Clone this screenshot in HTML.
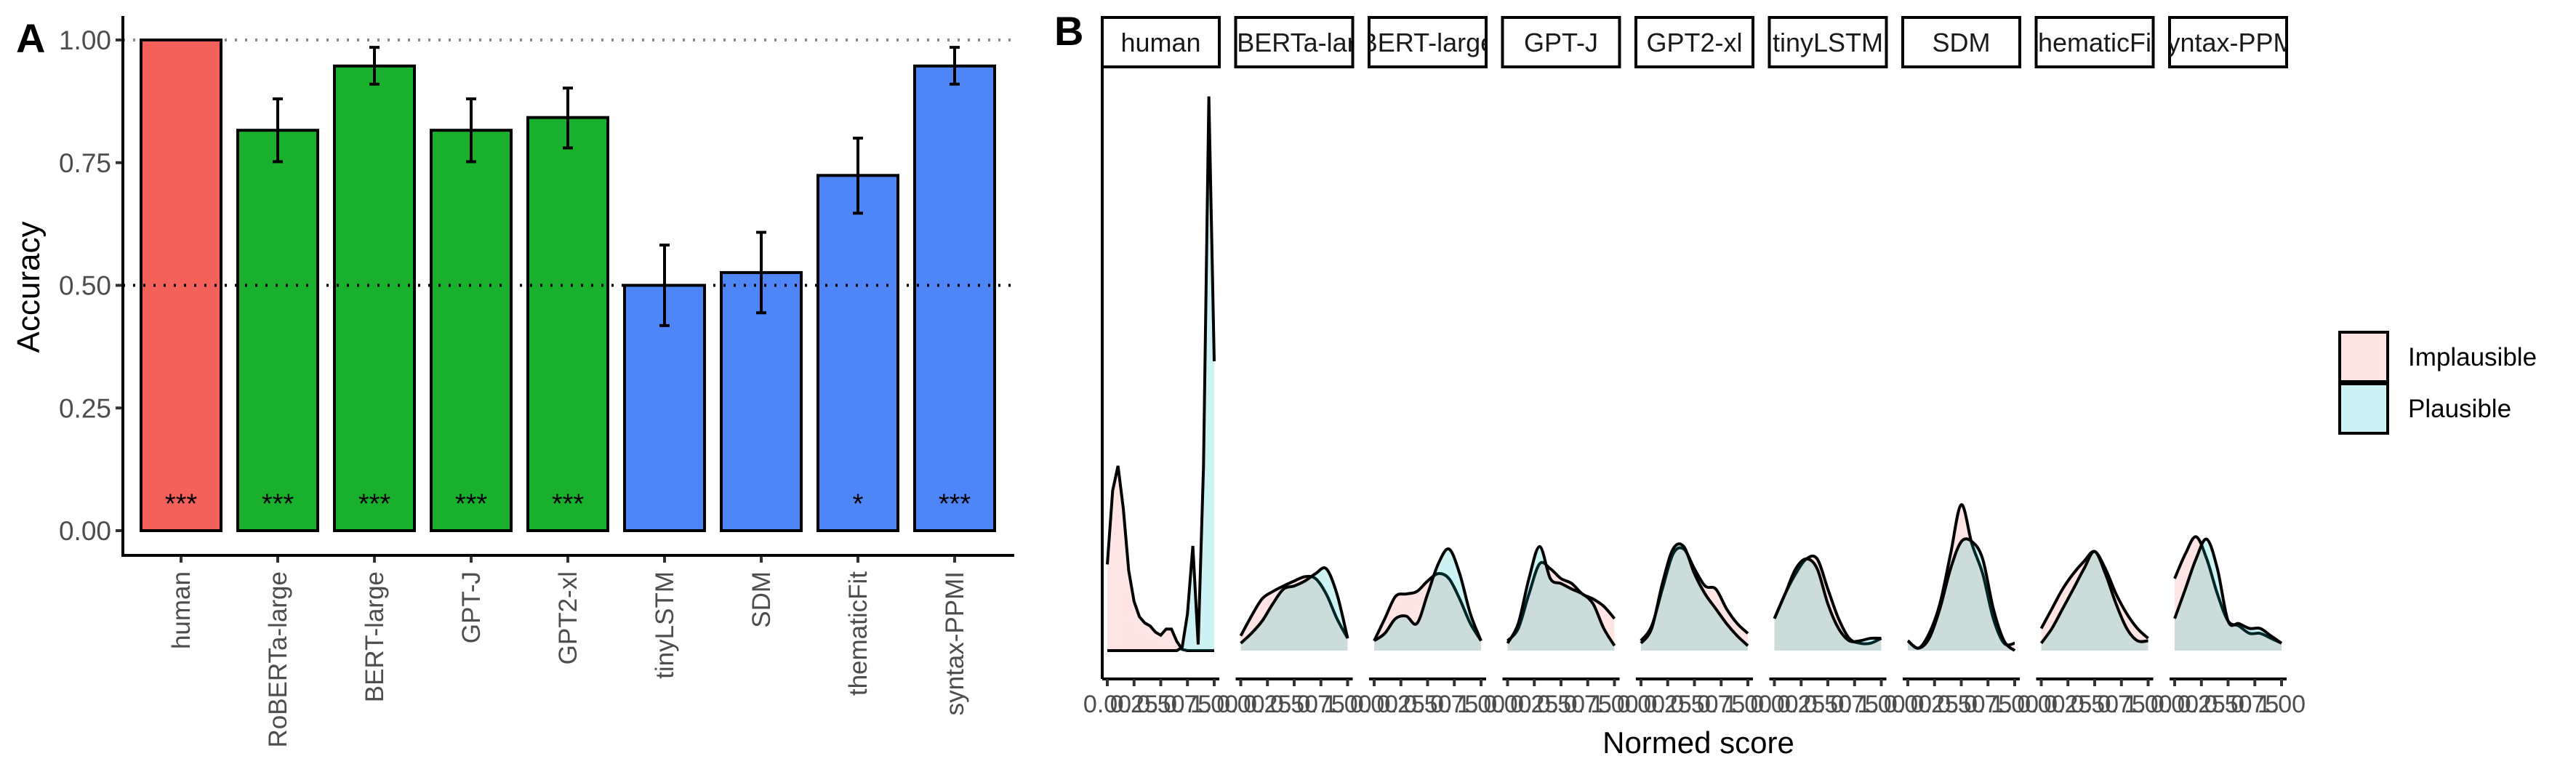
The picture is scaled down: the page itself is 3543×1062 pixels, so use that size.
<!DOCTYPE html>
<html><head><meta charset="utf-8"><style>
html,body{margin:0;padding:0;background:#fff;}
svg{display:block;font-family:"Liberation Sans",sans-serif;}
</style></head><body>
<svg id="fig" width="3543" height="1062" viewBox="0 0 3543 1062"></svg>
<script>
const models = ["human","RoBERTa-large","BERT-large","GPT-J","GPT2-xl","tinyLSTM","SDM","thematicFit","syntax-PPMI"];
const accuracy = [1.0,0.816,0.947,0.816,0.842,0.5,0.526,0.724,0.947];
const errLow = [1.0,0.752,0.91,0.752,0.78,0.418,0.444,0.647,0.91];
const errHigh = [1.0,0.88,0.985,0.88,0.902,0.582,0.608,0.8,0.985];
const sig = ["***","***","***","***","***","","","*","***"];
const groupColor = ["#f4605a","#19b02d","#19b02d","#19b02d","#19b02d","#4f86f7","#4f86f7","#4f86f7","#4f86f7"];
const yTicks = [0,0.25,0.5,0.75,1.0];
const yTickLabels = ["0.00","0.25","0.50","0.75","1.00"];
const facetLabels = ["human","RoBERTa-large","BERT-large","GPT-J","GPT2-xl","tinyLSTM","SDM","thematicFit","syntax-PPMI"];
const xTicksB = [0,0.25,0.5,0.75,1];
const xTickLabelsB = ["0.00","0.25","0.50","0.75","1.00"];
const humanImpl = [1.4,2.6,3.0,2.3,1.3,0.8,0.55,0.45,0.4,0.3,0.25,0.35,0.35,0.15,0.02,0,0,0,0,0,0];
const humanPlaus = [0,0,0,0,0,0,0,0,0,0,0,0,0,0,0.05,0.6,1.7,0.1,3.0,9.0,4.7];
const implDens = [
 null,
 [0.24,0.56,0.84,0.96,1.05,1.13,1.2,1.17,0.92,0.52,0.2],
 [0.16,0.52,0.88,0.92,0.96,1.13,1.25,1.17,0.84,0.44,0.16],
 [0.16,0.36,0.92,1.41,1.33,1.17,1.09,0.92,0.84,0.72,0.52],
 [0.16,0.4,1.0,1.57,1.65,1.33,1.05,1.0,0.68,0.44,0.28],
 [0.52,0.92,1.25,1.49,1.49,1.0,0.52,0.2,0.12,0.12,0.2],
 [0.16,0.04,0.28,0.76,1.57,2.37,1.73,1.25,0.52,0.12,0.12],
 [0.36,0.68,1.0,1.25,1.45,1.61,1.33,0.92,0.6,0.36,0.2],
 [1.17,1.57,1.85,1.49,0.92,0.48,0.4,0.28,0.28,0.2,0.12]
];
const plausDens = [
 null,
 [0.12,0.28,0.48,0.76,1.0,1.05,1.13,1.25,1.33,0.92,0.2],
 [0.16,0.28,0.52,0.56,0.44,0.92,1.41,1.65,1.25,0.6,0.16],
 [0.12,0.44,1.17,1.69,1.17,1.09,1.0,0.92,0.76,0.36,0.08],
 [0.12,0.36,1.09,1.65,1.69,1.25,0.92,0.68,0.44,0.24,0.08],
 [0.52,0.92,1.33,1.49,1.33,0.76,0.36,0.16,0.16,0.2,0.2],
 [0.16,0.04,0.2,0.68,1.33,1.77,1.77,1.49,0.68,0.16,0],
 [0.12,0.36,0.68,1.0,1.33,1.61,1.25,0.76,0.36,0.16,0.16],
 [0.52,1.0,1.49,1.81,1.33,0.48,0.44,0.36,0.36,0.24,0.12]
];

const svg = document.getElementById('fig');
const NS = "http://www.w3.org/2000/svg";
function mk(tag, attrs, parent){const e=document.createElementNS(NS,tag);for(const k in attrs)e.setAttribute(k,attrs[k]);(parent||svg).appendChild(e);return e;}

// ---------- Panel A ----------
const A = {x0:169, x1:1395, yTop:55, yBot:730, axisY:764, c0:249, step:133, bw:110};
const yA = v => A.yBot - v*(A.yBot-A.yTop);
const xA = i => A.c0 + i*A.step;

let t = mk('text',{x:22,y:72,'font-size':56,'font-weight':'bold',fill:'#000'});
t.textContent='A';



let l1 = mk('line',{x1:A.x0,x2:A.x1,y1:yA(1),y2:yA(1),stroke:'#888','stroke-width':4,'stroke-dasharray':'3 11'});



models.forEach((m,i)=>{
  const cx=xA(i);
  const r = mk('rect',{x:cx-A.bw/2,y:yA(accuracy[i]),width:A.bw,height:yA(0)-yA(accuracy[i]),fill:groupColor[i],stroke:'#000','stroke-width':4});
  
  
  if(errHigh[i]>errLow[i]){
    const g = mk('g',{stroke:'#000','stroke-width':4});
    
    
    mk('line',{x1:cx,x2:cx,y1:yA(errLow[i]),y2:yA(errHigh[i])},g);
    mk('line',{x1:cx-7,x2:cx+7,y1:yA(errLow[i]),y2:yA(errLow[i])},g);
    mk('line',{x1:cx-7,x2:cx+7,y1:yA(errHigh[i]),y2:yA(errHigh[i])},g);
  }
  if(sig[i]){
    const s = mk('text',{x:cx,y:yA(0.06)+16,'text-anchor':'middle','font-size':38,fill:'#000'});
    s.textContent=sig[i];
    
    
  }
  const tk = mk('line',{x1:cx,x2:cx,y1:A.axisY,y2:A.axisY+10,stroke:'#333','stroke-width':4});
  
  
  const lb = mk('text',{x:0,y:0,'text-anchor':'end','font-size':35,fill:'#4d4d4d',transform:`translate(${cx+12},${A.axisY+22}) rotate(-90)`});
  lb.textContent=m;
  
  
});

let l2 = mk('line',{x1:A.x0,x2:A.x1,y1:yA(0.5),y2:yA(0.5),stroke:'#000','stroke-width':4,'stroke-dasharray':'3 11'});



yTicks.forEach((v,i)=>{
  const tk = mk('line',{x1:A.x0-10,x2:A.x0,y1:yA(v),y2:yA(v),stroke:'#333','stroke-width':4});
  
  
  const lb = mk('text',{x:A.x0-16,y:yA(v)+13,'text-anchor':'end','font-size':37,fill:'#4d4d4d'});
  lb.textContent=yTickLabels[i];
  
  
});
let ax = mk('path',{d:`M${A.x0},22 V${A.axisY} H${A.x1}`,fill:'none',stroke:'#000','stroke-width':4});


let yt = mk('text',{x:0,y:0,'text-anchor':'middle','font-size':44,fill:'#000',transform:'translate(54,395) rotate(-90)'});
yt.textContent='Accuracy';



// ---------- Panel B ----------
t = mk('text',{x:1450,y:62,'font-size':56,'font-weight':'bold',fill:'#000'});
t.textContent='B';



const B = {left0:1516, step:183.5, w:161, stripTop:24, stripBot:92, base:895, unit:84.7, axisY:934, pad:7};
const defs = mk('defs',{});
function smoothPath(pts){
  let d=`M${pts[0][0]},${pts[0][1]}`;
  for(let i=0;i<pts.length-1;i++){
    const p0=pts[Math.max(0,i-1)],p1=pts[i],p2=pts[i+1],p3=pts[Math.min(pts.length-1,i+2)];
    const c1x=p1[0]+(p2[0]-p0[0])/6,c1y=p1[1]+(p2[1]-p0[1])/6;
    const c2x=p2[0]-(p3[0]-p1[0])/6,c2y=p2[1]-(p3[1]-p1[1])/6;
    d+=` C${c1x},${c1y} ${c2x},${c2y} ${p2[0]},${p2[1]}`;
  }
  return d;
}
facetLabels.forEach((f,i)=>{
  const L = B.left0 + i*B.step, R = L + B.w;
  const xB = v => L + B.pad + v*(B.w-2*B.pad);
  const yB = d => B.base - d*B.unit;
  const g = mk('g',{});
  
  
  const cp = mk('clipPath',{id:'clip'+i},defs);
  mk('rect',{x:L,y:B.stripTop,width:B.w,height:B.stripBot-B.stripTop},cp);
  const sr = mk('rect',{x:L,y:B.stripTop,width:B.w,height:B.stripBot-B.stripTop,fill:'#fff',stroke:'#000','stroke-width':4},g);
  
  
  const st = mk('text',{x:(L+R)/2,y:71,'text-anchor':'middle','font-size':36,fill:'#1a1a1a','clip-path':`url(#clip${i})`},g);
  st.textContent=f;
  
  
  const series = i===0 ? [[humanImpl,'#F8766D','implausible'],[humanPlaus,'#00BFC4','plausible']]
                       : [[implDens[i],'#F8766D','implausible'],[plausDens[i],'#00BFC4','plausible']];
  series.forEach(([arr,col,nm])=>{
    const n=arr.length;
    const pts=arr.map((d,k)=>[xB(k/(n-1)),yB(d)]);
    const line = i===0 ? 'M'+pts.map(p=>p[0]+','+p[1]).join(' L') : smoothPath(pts);
    const area = mk('path',{d:line+` L${xB(1)},${B.base} L${xB(0)},${B.base} Z`,fill:col,'fill-opacity':0.2,stroke:'none'},g);
    
    
    const ln = mk('path',{d:line,fill:'none',stroke:'#000','stroke-width':4},g);
    
    
  });
  const xa = mk('line',{x1:L,x2:R,y1:B.axisY,y2:B.axisY,stroke:'#000','stroke-width':4},g);
  
  
  xTicksB.forEach((v,k)=>{
    const tk=mk('line',{x1:xB(v),x2:xB(v),y1:B.axisY,y2:B.axisY+10,stroke:'#333','stroke-width':4},g);
    
    
    const lb=mk('text',{x:xB(v),y:B.axisY+46,'text-anchor':'middle','font-size':34,fill:'#4d4d4d'},g);
    lb.textContent=xTickLabelsB[k];
    
    
  });
});
let ya = mk('line',{x1:B.left0,x2:B.left0,y1:B.stripBot,y2:B.axisY,stroke:'#000','stroke-width':4});


let xt = mk('text',{x:2336,y:1036,'text-anchor':'middle','font-size':42,fill:'#000'});
xt.textContent='Normed score';



const lg = mk('g',{});


[["Implausible","#F8766D",457],["Plausible","#00BFC4",528]].forEach(([nm,col,y])=>{
  mk('rect',{x:3218,y:y,width:66,height:68,fill:'#fff',stroke:'none'},lg);
  const r=mk('rect',{x:3218,y:y,width:66,height:68,fill:col,'fill-opacity':0.2,stroke:'#000','stroke-width':4},lg);
  
  
  const tx=mk('text',{x:3312,y:y+46,'font-size':35,fill:'#000'},lg);
  tx.textContent=nm;
  
  
});
</script>
</body></html>
